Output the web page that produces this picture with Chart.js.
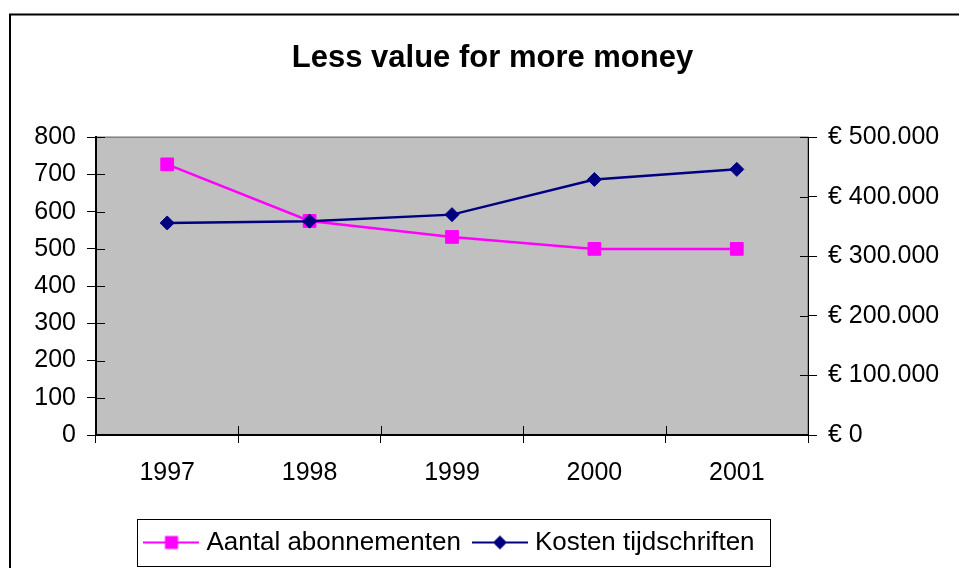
<!DOCTYPE html>
<html>
<head>
<meta charset="utf-8">
<script src="https://cdn.jsdelivr.net/npm/chart.js@4/dist/chart.umd.min.js"></script>
<style>
  html, body { margin: 0; padding: 0; background: #ffffff; }
  canvas { display: block; }
</style>
</head>
<body>
<canvas id="chart" width="959" height="568"></canvas>
<script>
// ---- data ----
const titleText = 'Less value for more money';
const years = ['1997', '1998', '1999', '2000', '2001'];
const seriesNames = ['Aantal abonnementen', 'Kosten tijdschriften'];
const abonnementen = [727, 575, 532, 500, 500];
const kosten = [356000, 359000, 370000, 429000, 446000];
const leftTicks = [0, 100, 200, 300, 400, 500, 600, 700, 800];
const rightTicks = [0, 100000, 200000, 300000, 400000, 500000];

// ---- styles ----
const PINK = '#FF00FF';
const NAVY = '#000080';
const FONT = "'Liberation Sans', Arial, Helvetica, sans-serif";
Chart.defaults.font.family = FONT;
Chart.defaults.color = '#000000';

function euro(v) {
  return '\u20AC ' + String(v).replace(/\B(?=(\d{3})+(?!\d))/g, '.');
}

function legendIcon(color, shape) {
  const c = document.createElement('canvas');
  c.width = 56; c.height = 18;
  const g = c.getContext('2d');
  g.strokeStyle = color; g.lineWidth = 2;
  g.beginPath(); g.moveTo(0, 9); g.lineTo(56, 9); g.stroke();
  g.fillStyle = color;
  if (shape === 'square') {
    g.fillRect(21.5, 2.5, 13, 13);
  } else {
    g.beginPath();
    g.moveTo(28, 2); g.lineTo(35, 9); g.lineTo(28, 16); g.lineTo(21, 9); g.closePath();
    g.fill();
  }
  return c;
}
const icons = [legendIcon(PINK, 'square'), legendIcon(NAVY, 'diamond')];

const decor = {
  id: 'decor',
  beforeDraw(chart) {
    const ctx = chart.ctx, a = chart.chartArea;
    ctx.save();
    ctx.fillStyle = '#ffffff';
    ctx.fillRect(0, 0, chart.width, chart.height);
    // outer frame (extends past right/bottom edges)
    ctx.strokeStyle = '#000000';
    ctx.lineWidth = 2;
    ctx.strokeRect(10, 14.5, 2000, 2000);
    // plot area
    ctx.fillStyle = '#C0C0C0';
    ctx.fillRect(a.left, a.top, a.right - a.left, a.bottom - a.top);
    ctx.strokeStyle = '#808080';
    ctx.lineWidth = 1.5;
    ctx.strokeRect(a.left, a.top, a.right - a.left, a.bottom - a.top);
    ctx.restore();
  },
  beforeDatasetsDraw(chart) {
    // inner halves of the crossing tick marks
    const ctx = chart.ctx, a = chart.chartArea;
    const y = chart.scales.y, y2 = chart.scales.y2, x = chart.scales.x;
    ctx.save();
    ctx.strokeStyle = '#000000';
    ctx.lineWidth = 1;
    ctx.beginPath();
    y.ticks.forEach(t => { const p = Math.round(y.getPixelForValue(t.value)) + 0.5; ctx.moveTo(a.left, p); ctx.lineTo(a.left + 9, p); });
    y2.ticks.forEach(t => { const p = Math.round(y2.getPixelForValue(t.value)) + 0.5; ctx.moveTo(a.right - 8, p); ctx.lineTo(a.right, p); });
    for (let i = 0; i <= years.length; i++) {
      const p = Math.round(x.getPixelForValue(i - 0.5)) + 0.5;
      ctx.moveTo(p, a.bottom - 9); ctx.lineTo(p, a.bottom);
    }
    ctx.stroke();
    ctx.restore();
  },
  afterDraw(chart) {
    // frame around the legend
    const lg = chart.legend;
    if (!lg || !lg.legendHitBoxes || !lg.legendHitBoxes.length) return;
    const hb = lg.legendHitBoxes;
    const first = hb[0], last = hb[hb.length - 1];
    const cy = first.top + first.height / 2;
    const ctx = chart.ctx;
    ctx.save();
    ctx.strokeStyle = '#000000';
    ctx.lineWidth = 1;
    const l = Math.round(first.left - 12) + 0.5;
    const r = Math.round(last.left + last.width + 15) + 0.5;
    const t = Math.round(cy - 23.5) + 0.5;
    const b = Math.round(cy + 23.5) + 0.5;
    ctx.strokeRect(l, t, r - l, b - t);
    ctx.restore();
  }
};

new Chart(document.getElementById('chart'), {
  type: 'line',
  data: {
    labels: years,
    datasets: [
      {
        label: seriesNames[0],
        data: abonnementen,
        yAxisID: 'y',
        borderColor: PINK,
        backgroundColor: PINK,
        borderWidth: 2.5,
        pointStyle: 'rect',
        pointRadius: 9,
        pointBorderWidth: 1,
        pointBackgroundColor: PINK,
        pointBorderColor: PINK,
        tension: 0,
        fill: false,
        order: 1
      },
      {
        label: seriesNames[1],
        data: kosten,
        yAxisID: 'y2',
        borderColor: NAVY,
        backgroundColor: NAVY,
        borderWidth: 2.5,
        pointStyle: 'rectRot',
        pointRadius: 7,
        pointBorderWidth: 1,
        pointBackgroundColor: NAVY,
        pointBorderColor: NAVY,
        tension: 0,
        fill: false,
        order: 0
      }
    ]
  },
  options: {
    responsive: false,
    animation: false,
    devicePixelRatio: 1,
    layout: { padding: { left: 26, right: 0, top: 0, bottom: 2.5 } },
    plugins: {
      tooltip: { enabled: false },
      title: {
        display: true,
        text: titleText,
        color: '#000000',
        font: { family: FONT, size: 31, weight: 'bold' },
        padding: { top: 40, bottom: 60 }
      },
      legend: {
        position: 'bottom',
        fullSize: false,
        labels: {
          color: '#000000',
          font: { family: FONT, size: 26 },
          usePointStyle: true,
          pointStyleWidth: 44,
          padding: 17,
          generateLabels: () => seriesNames.map((name, i) => ({
            text: name,
            pointStyle: icons[i],
            fillStyle: i === 0 ? PINK : NAVY,
            strokeStyle: i === 0 ? PINK : NAVY,
            lineWidth: 0,
            hidden: false,
            datasetIndex: i,
            fontColor: '#000000'
          }))
        }
      }
    },
    scales: {
      x: {
        type: 'category',
        offset: true,
        grid: { offset: true, drawOnChartArea: false, drawTicks: true, tickLength: 8, color: '#000000', lineWidth: 1 },
        border: { display: true, color: '#000000', width: 2 },
        ticks: { color: '#000000', font: { family: FONT, size: 25 }, padding: 15, maxRotation: 0, autoSkip: false },
        afterFit: s => { s.height = 77.5; }
      },
      y: {
        position: 'left',
        min: 0,
        max: leftTicks[leftTicks.length - 1],
        afterBuildTicks: s => { s.ticks = leftTicks.map(v => ({ value: v })); },
        grid: { drawOnChartArea: false, drawTicks: true, tickLength: 9, color: '#000000', lineWidth: 1 },
        border: { display: true, color: '#000000', width: 2 },
        ticks: { color: '#000000', font: { family: FONT, size: 25 }, padding: 11 },
        afterFit: s => { s.width = 70; }
      },
      y2: {
        position: 'right',
        min: 0,
        max: rightTicks[rightTicks.length - 1],
        afterBuildTicks: s => { s.ticks = rightTicks.map(v => ({ value: v })); },
        grid: { drawOnChartArea: false, drawTicks: true, tickLength: 9, color: '#000000', lineWidth: 1 },
        border: { display: true, color: '#000000', width: 1 },
        ticks: { color: '#000000', font: { family: FONT, size: 25 }, padding: 11, callback: v => euro(v) },
        afterFit: s => { s.width = 151; }
      }
    }
  },
  plugins: [decor]
});
</script>
</body>
</html>
